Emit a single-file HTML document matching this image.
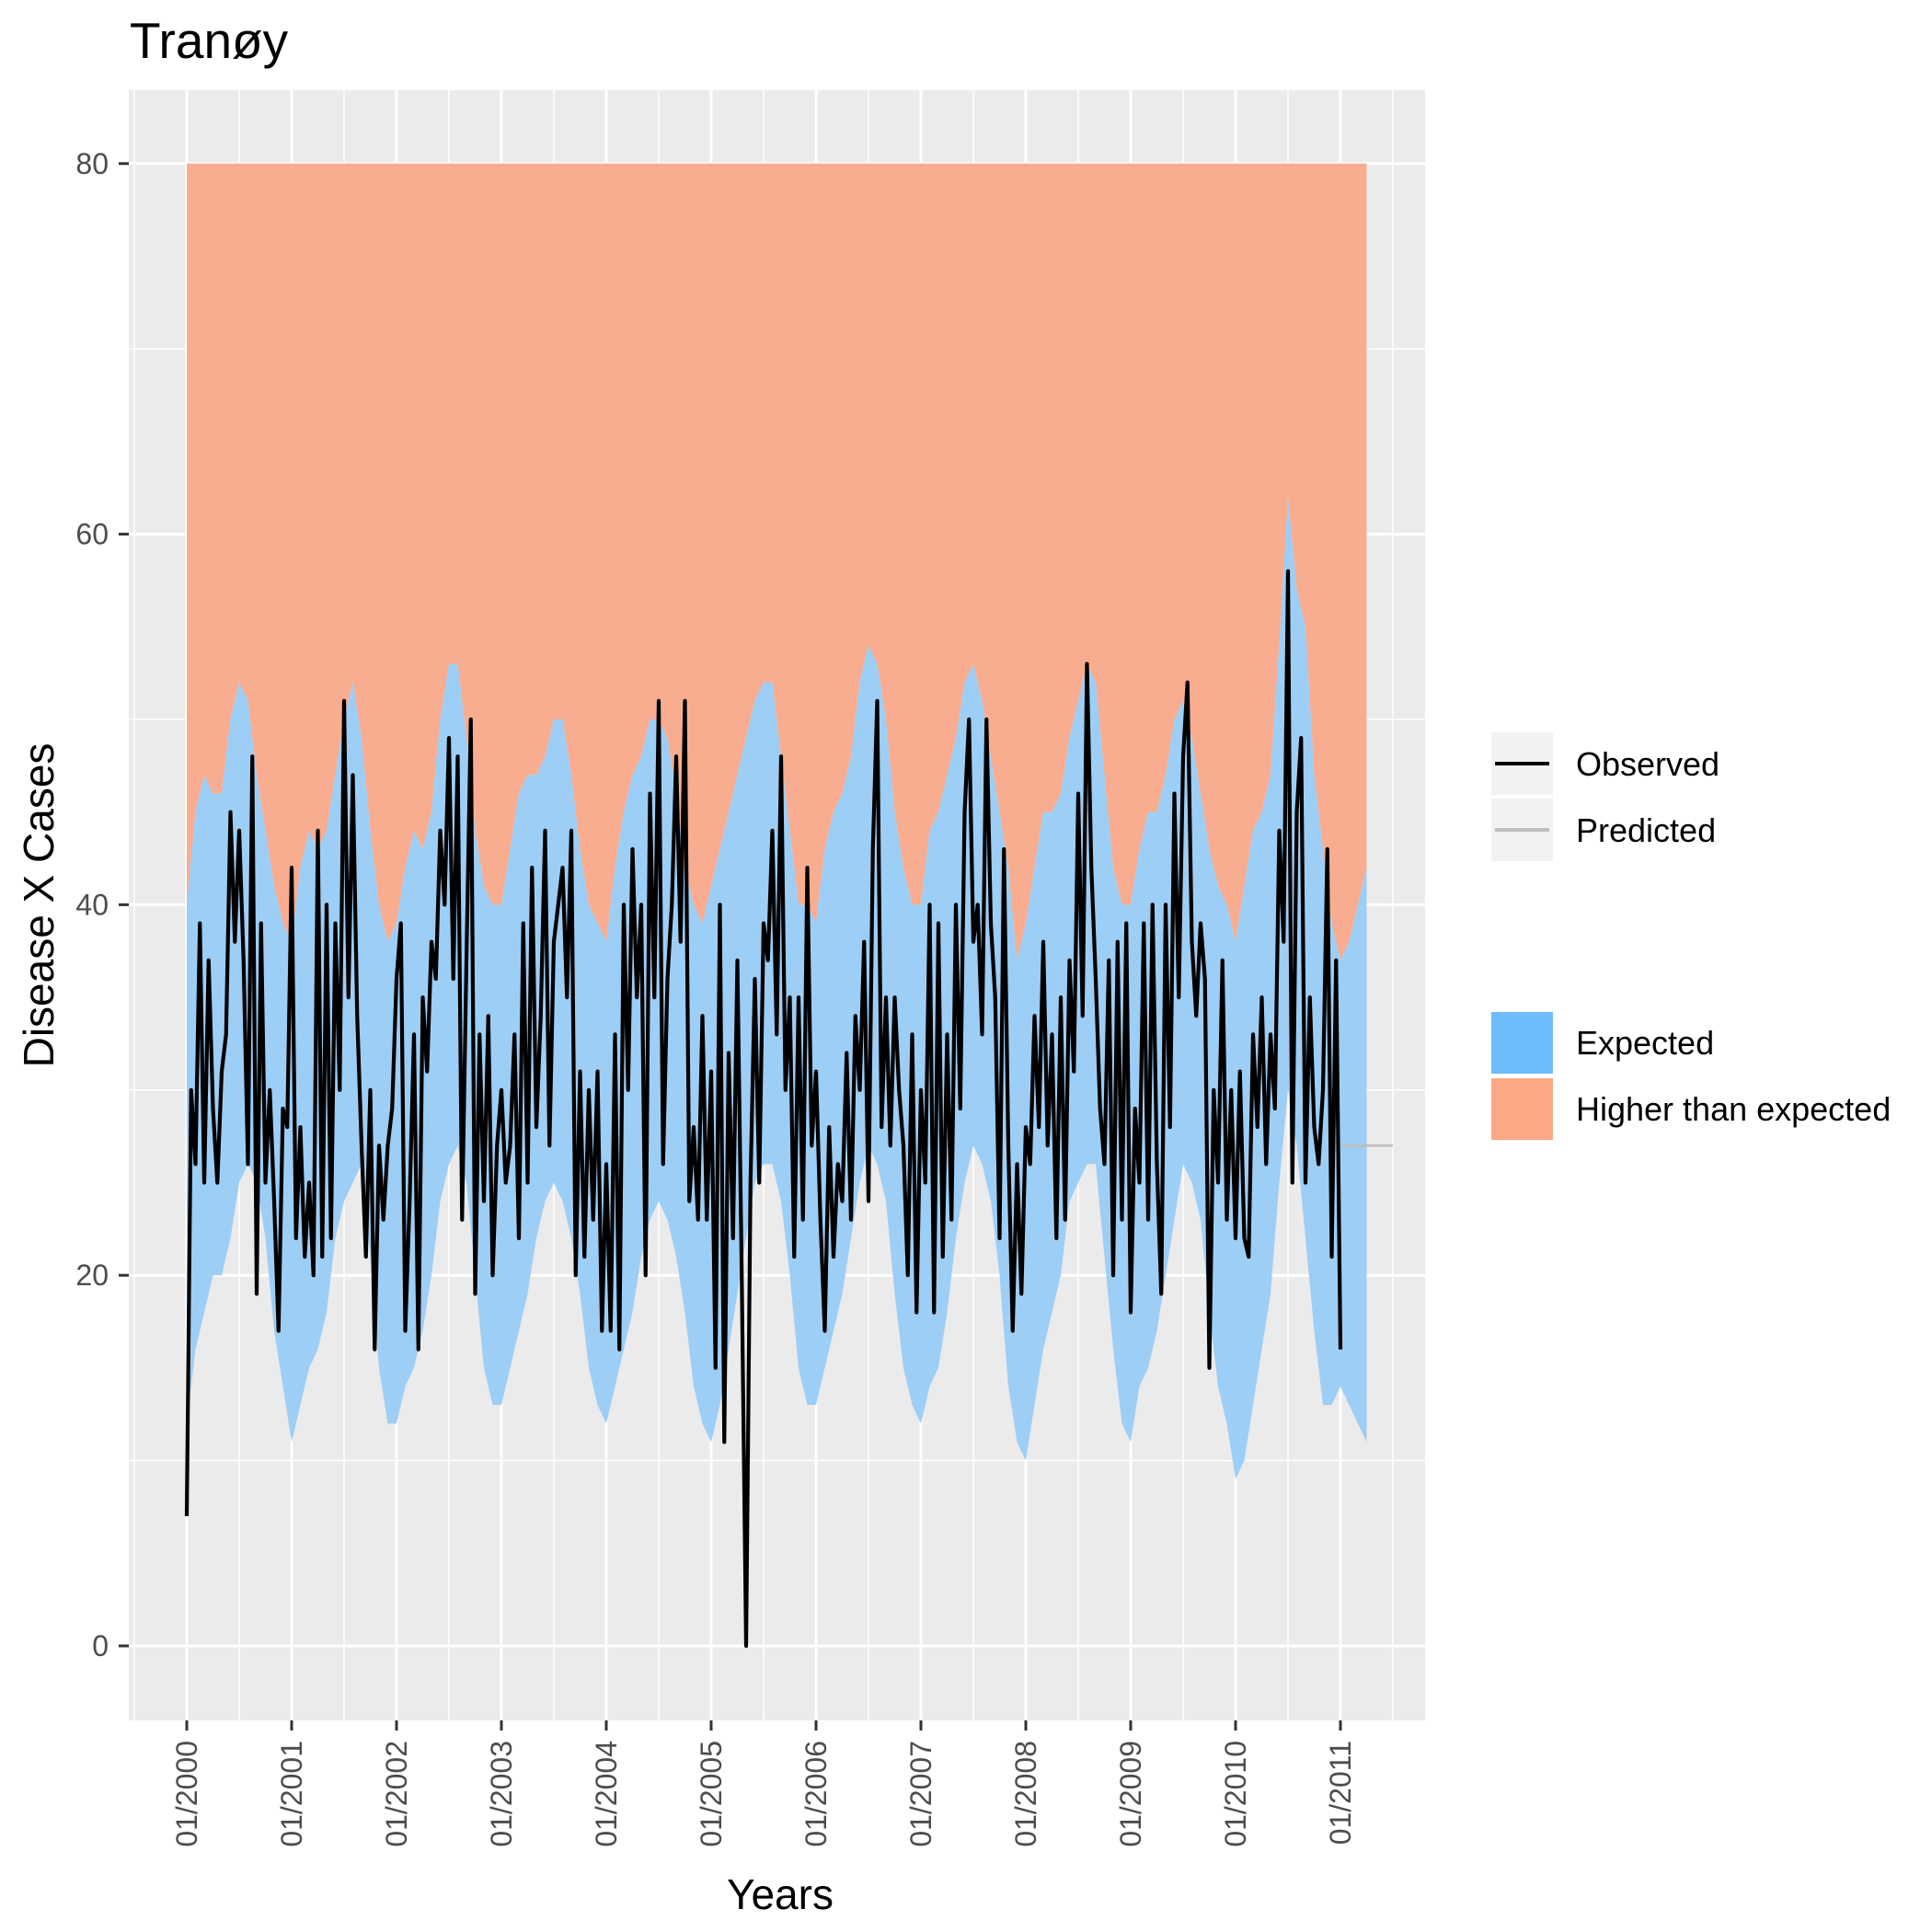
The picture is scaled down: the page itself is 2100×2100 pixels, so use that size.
<!DOCTYPE html>
<html><head><meta charset="utf-8"><style>html,body{margin:0;padding:0;background:#fff}svg{display:block}</style></head>
<body>
<svg id="chart" width="2100" height="2100" viewBox="0 0 2100 2100" xmlns="http://www.w3.org/2000/svg" font-family="Liberation Sans, Arial, sans-serif">
<text x="141" y="63" font-size="55" fill="#000">Tranøy</text>
<rect x="140" y="98" width="1409" height="1772" fill="#ebebeb"/>
<g id="grid"></g>
<g id="marks"></g>
<g id="axes"></g>
<text x="848" y="2075" font-size="46" text-anchor="middle">Years</text>
<text transform="translate(58,984) rotate(-90)" font-size="46" text-anchor="middle">Disease X Cases</text>
<g>
<rect x="1621" y="796" width="67" height="68" fill="#f2f2f2"/>
<line x1="1625" y1="830" x2="1684" y2="830" stroke="#000" stroke-width="4"/>
<text x="1713" y="843" font-size="36">Observed</text>
<rect x="1621" y="868" width="67" height="68" fill="#f2f2f2"/>
<line x1="1625" y1="902" x2="1684" y2="902" stroke="#bebebe" stroke-width="4"/>
<text x="1713" y="915" font-size="36">Predicted</text>
<rect x="1621" y="1100" width="67" height="67" fill="#6ebcfc"/>
<text x="1713" y="1146" font-size="36">Expected</text>
<rect x="1621" y="1172" width="67" height="67" fill="#fba985"/>
<text x="1713" y="1218" font-size="36">Higher than expected</text>
</g>
</svg>
<script>
const upperBand=[40,45,47,46,46,50,52,51,47,44,41,39,
38,42,44,43,44,47,50,52,49,44,40,38,
39,42,44,43,45,50,53,53,49,44,41,40,
40,43,46,47,47,48,50,50,47,43,40,39,
38,42,45,47,48,50,50,49,46,42,40,39,
41,43,45,47,49,51,52,52,48,44,40,40,
39,43,45,46,48,52,54,53,50,45,42,40,
40,44,45,47,49,52,53,51,48,45,42,37,
39,42,45,45,46,49,51,53,52,47,42,40,
40,43,45,45,47,50,51,49,46,43,41,40,
38,41,44,45,47,54,62,57,55,47,43,39,
37,38,40,42];
const lowerBand=[12,16,18,20,20,22,25,26,25,22,17,14,
11,13,15,16,18,22,24,25,26,21,15,12,
12,14,15,17,20,24,26,27,25,20,15,13,
13,15,17,19,22,24,25,24,22,19,15,13,
12,14,16,18,21,23,24,23,21,18,14,12,
11,13,16,19,22,25,26,26,24,20,15,13,
13,15,17,19,22,25,27,26,24,19,15,13,
12,14,15,18,22,25,27,26,24,20,14,11,
10,13,16,18,20,24,25,26,26,21,16,12,
11,14,15,17,20,23,26,25,23,18,14,12,
9,10,13,16,19,25,30,27,22,17,13,13,
14,13,12,11];
const observed=[7,30,26,39,25,37,29,25,31,33,45,38,44,37,26,48,19,39,25,30,24,17,29,28,
42,22,28,21,25,20,44,21,40,22,39,30,51,35,47,34,27,21,30,16,27,23,27,29,
36,39,17,24,33,16,35,31,38,36,44,40,49,36,48,23,37,50,19,33,24,34,20,27,
30,25,27,33,22,39,25,42,28,34,44,27,38,40,42,35,44,20,31,21,30,23,31,17,
26,17,33,16,40,30,43,35,40,20,46,35,51,26,36,40,48,38,51,24,28,23,34,23,
31,15,40,11,32,22,37,20,0,25,36,25,39,37,44,33,48,30,35,21,35,23,42,27,
31,23,17,28,21,26,24,32,23,34,30,38,24,43,51,28,35,27,35,30,27,20,33,18,
30,25,40,18,39,21,33,23,40,29,45,50,38,40,33,50,39,35,22,43,27,17,26,19,
28,26,34,28,38,27,33,22,35,23,37,31,46,34,53,42,36,29,26,37,20,38,23,39,
18,29,25,39,23,40,26,19,40,28,46,35,48,52,38,34,39,36,15,30,25,37,23,30,
22,31,22,21,33,28,35,26,33,29,44,38,58,25,45,49,25,35,28,26,30,43,21,37,16];
const predictedTail=[27,27,27,27,27,27,27];
const yTicks=[0,20,40,60,80];
const xTickYears=[2000,2001,2002,2003,2004,2005,2006,2007,2008,2009,2010,2011];

const NS='http://www.w3.org/2000/svg';
const X=t=>203+(t-2000)*114;
const Y=v=>1789-v*20.14;
const PL=140,PR=1549,PT=98,PB=1870;
const grid=document.getElementById('grid'),marks=document.getElementById('marks'),axes=document.getElementById('axes');
function mk(tag,attrs,parent){const e=document.createElementNS(NS,tag);for(const k in attrs)e.setAttribute(k,attrs[k]);parent.appendChild(e);return e;}
for(let v=-10;v<=90;v+=10){const y=Y(v);if(y<PT||y>PB)continue;const major=v%20===0;
 const l=mk('line',{x1:PL,x2:PR,y1:y,y2:y,stroke:'#fff','stroke-width':major?3:1.5},grid);
 
 }
for(let t=1999.5;t<=2011.5;t+=0.5){const x=X(t);if(x<PL||x>PR)continue;const major=Number.isInteger(t);
 const l=mk('line',{x1:x,x2:x,y1:PT,y2:PB,stroke:'#fff','stroke-width':major?3:1.5},grid);
 
 }
const n=upperBand.length;
let up='';
for(let i=0;i<n;i++){const t=2000+i/12;up+=(i?'L':'M')+X(t)+','+Y(upperBand[i]);}
let hp=up+'L'+X(2000+(n-1)/12)+','+Y(80)+'L'+X(2000)+','+Y(80)+'Z';
const ha=mk('path',{d:hp,fill:'#f9ad90'},marks);


let bp=up;for(let i=n-1;i>=0;i--){const t=2000+i/12;bp+='L'+X(t)+','+Y(lowerBand[i]);}bp+='Z';
const ba=mk('path',{d:bp,fill:'#9dcef6'},marks);


let pp='';predictedTail.forEach((v,i)=>{pp+=(i?'L':'M')+X(2011+i/12)+','+Y(v);});
const pl=mk('path',{d:pp,fill:'none',stroke:'#bebebe','stroke-width':2.5},marks);


let op='';observed.forEach((v,i)=>{op+=(i?'L':'M')+X(2000+i/24)+','+Y(v);});
const ol=mk('path',{d:op,fill:'none',stroke:'#000','stroke-width':4.2,'stroke-linejoin':'round'},marks);


yTicks.forEach(v=>{const y=Y(v);
 mk('line',{x1:129,x2:PL,y1:y,y2:y,stroke:'#333','stroke-width':3},axes);
 const tx=mk('text',{x:118,y:y+11,'font-size':32,fill:'#4d4d4d','text-anchor':'end'},axes);tx.textContent=v;
 
 });
xTickYears.forEach(yr=>{const x=X(yr);
 mk('line',{x1:x,x2:x,y1:PB,y2:PB+11,stroke:'#333','stroke-width':3},axes);
 const tx=mk('text',{transform:'translate('+(x+11)+',1892) rotate(-90)','font-size':32,fill:'#4d4d4d','text-anchor':'end'},axes);tx.textContent='01/'+yr;
 
 });
</script>
</body></html>
